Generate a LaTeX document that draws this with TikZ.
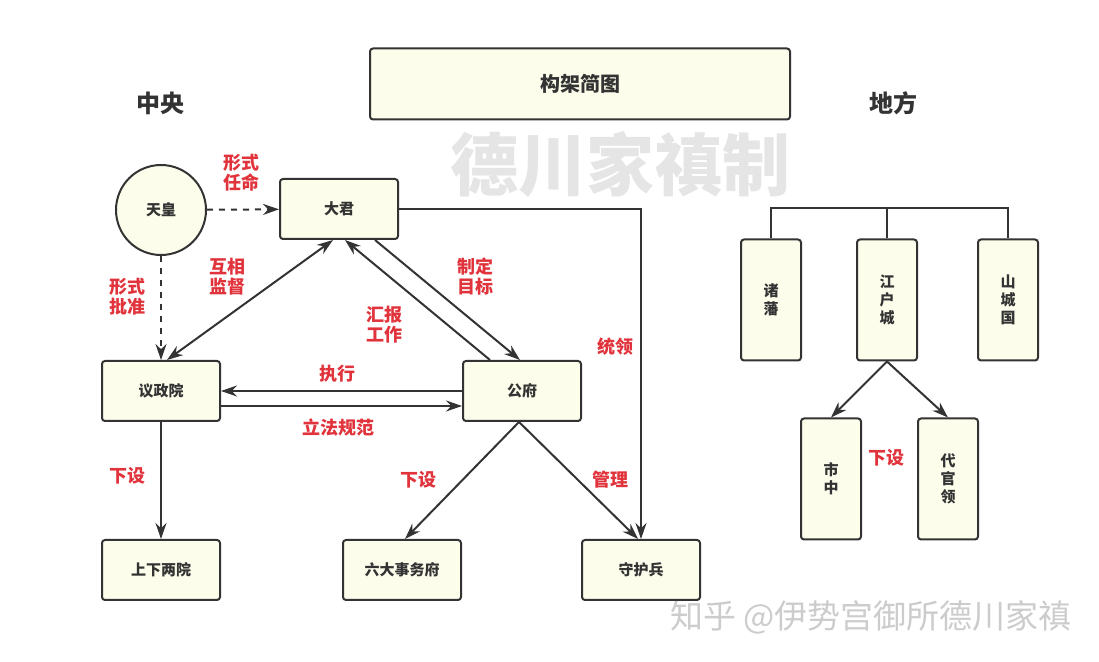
\documentclass[tikz,border=0pt]{standalone}
\usepackage{fontspec}
\setmainfont{Noto Sans CJK SC}
\usetikzlibrary{positioning, arrows.meta}
\definecolor{boxfill}{HTML}{FDFDEC}
\definecolor{tagred}{HTML}{E0333B}
\definecolor{inkgray}{HTML}{333333}
\definecolor{markgray}{HTML}{E5E5E5}

\begin{document}
\begin{tikzpicture}[line width=1pt, color=inkgray, x=0.5pt, y=-0.5pt,
    link/.style={-{Stealth[length=8pt, width=5.5pt]}},
    every node/.style={font=\bfseries\fontsize{7.5}{9}\selectfont},
    box/.style={draw, rounded corners=1.5pt, fill=boxfill, minimum width=59pt, minimum height=30pt, inner sep=0pt},
    tall/.style={box, minimum width=30pt, minimum height=60.5pt, align=center},
    tag/.style={text=tagred, font=\bfseries\fontsize{9}{10}\selectfont, align=center},
    head/.style={font=\bfseries\fontsize{12}{14}\selectfont}]
    \useasboundingbox (0,0) rectangle (1099,662);

    \node[text=markgray, font=\bfseries\fontsize{34}{34}\selectfont] (stamp) at (620,165) {德川家禛制};
    \node[text=black!20, font=\fontsize{16.5}{16.5}\selectfont] (zhihu) at (871,617) {知乎 @伊势宫御所德川家禛};

    \node[box, minimum width=210pt, minimum height=35.5pt, font=\bfseries\fontsize{10}{12}\selectfont] (title) at (580,84) {构架简图};
    \node[head] (center) at (160,103) {中央};
    \node[head] (local) at (893,103) {地方};

    % central
    \node[circle, draw, fill=boxfill, minimum size=45pt, inner sep=0pt] (tenno) at (161,210) {天皇};
    \node[box] (dajun) at (339,209) {大君};
    \node[box] (yizheng) at (161,391) {议政院};
    \node[box] (gongfu) at (522,391) {公府};
    \node[box] (lianyuan) at (161,570) {上下两院};
    \node[box] (liuda) at (402,570) {六大事务府};
    \node[box] (shouhu) at (641,570) {守护兵};

    % local
    \node[tall] (zhufan) at (771,300) {诸\\藩};
    \node[tall] (edo) at (887,300) {江\\户\\城};
    \node[tall] (yamashiro) at (1008,300) {山\\城\\国};
    \node[tall] (shichu) at (831,479) {市\\中};
    \node[tall] (daiguan) at (948,479) {代\\官\\领};

    \draw[link, dashed] (tenno) -- (dajun);
    \draw[link, dashed] (tenno) -- (yizheng);
    \draw[{Stealth[length=8pt, width=5.5pt]}-{Stealth[length=8pt, width=5.5pt]}] ([shift={(6,0)}]yizheng.north) -- ([shift={(-6,0)}]dajun.south);
    \draw[link] ([shift={(-32,0)}]gongfu.north) -- ([shift={(6,0)}]dajun.south);
    \draw[link] ([shift={(36,0)}]dajun.south) -- ([shift={(-2,0)}]gongfu.north);
    \draw[link] (gongfu.west) -- (yizheng.east);
    \draw[link] ([shift={(0,15)}]yizheng.east) -- ([shift={(0,15)}]gongfu.west);
    \draw[link] (yizheng) -- (lianyuan);
    \draw[link] ([shift={(-3,0)}]gongfu.south) -- ([shift={(3,0)}]liuda.north);
    \draw[link] ([shift={(-3,0)}]gongfu.south) -- ([shift={(-3,0)}]shouhu.north);
    \draw[link] (dajun.east) -| (shouhu.north);

    \draw (zhufan.north) -- ++(0,-30) -| (yamashiro.north);
    \draw (edo.north) -- ++(0,-30);
    \draw[link] (edo.south) -- (shichu.north);
    \draw[link] (edo.south) -- (daiguan.north);

    % labels
    \node[tag] (appoint) at (241,173) {形式\\任命};
    \node[tag] (approve) at (127,297) {形式\\批准};
    \node[tag] (watch) at (227,277) {互相\\监督};
    \node[tag] (report) at (384,325) {汇报\\工作};
    \node[tag] (goal) at (475,277) {制定\\目标};
    \node[tag] (command) at (615,347) {统领};
    \node[tag] (execute) at (337,374) {执行};
    \node[tag] (legislate) at (338,428) {立法规范};
    \node[tag] (setup1) at (127,476) {下设};
    \node[tag] (setup2) at (418,480) {下设};
    \node[tag] (manage) at (610,480) {管理};
    \node[tag] (setup3) at (886,458) {下设};
\end{tikzpicture}
\end{document}
